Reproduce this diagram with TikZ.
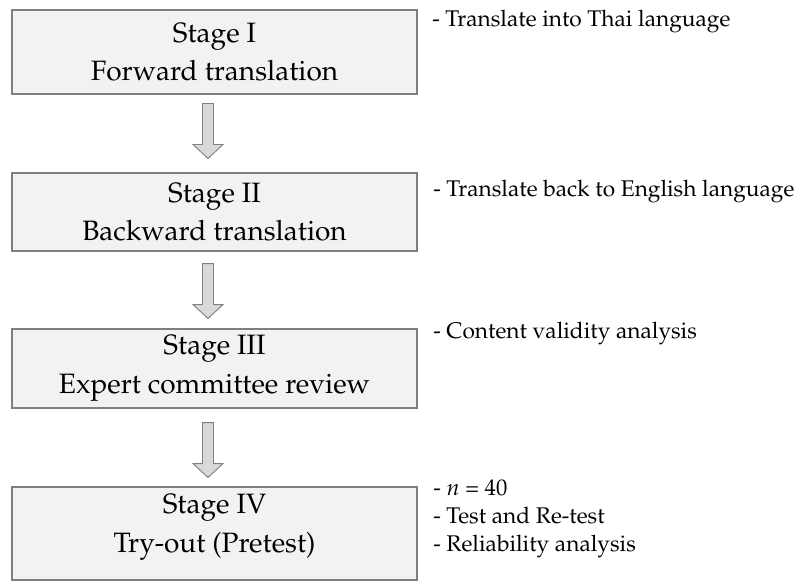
\documentclass[tikz,border=0pt]{standalone}
\usepackage[T1]{fontenc}
\usepackage{mathpazo}
\usetikzlibrary{calc}
\definecolor{boxfill}{HTML}{F2F2F2}
\definecolor{boxline}{HTML}{7F7F7F}
\definecolor{arrfill}{HTML}{D9D9D9}
\definecolor{arrline}{HTML}{808080}
\tikzset{
  stagebox/.style={draw=boxline, fill=boxfill, line width=0.8pt, minimum width=303.75pt, inner sep=0pt},
  stagetext/.style={align=center, font=\fontsize{21}{29}\selectfont, inner sep=0pt},
  sidetext/.style={anchor=base west, font=\fontsize{17}{21}\selectfont, inner sep=0pt},
  blockarrow/.style={draw=arrline, fill=arrfill, line width=0.7pt, line join=miter},
}
\newcommand{\blkarrow}[1]{%
  \draw[blockarrow] ($#1+(-5.5,0)$) -- ($#1+(5.5,0)$) -- ($#1+(5.5,41)$) -- ($#1+(15,41)$) -- ($#1+(0,55)$) -- ($#1+(-15,41)$) -- ($#1+(-5.5,41)$) -- cycle;}
\begin{document}
\begin{tikzpicture}[x=0.75pt, y=-0.75pt]
\useasboundingbox (0,0) rectangle (800,581);
% boxes
\node[stagebox, minimum height=63pt] (s1) at (214.5,52) {};
\node[stagebox, minimum height=58.5pt] (s2) at (214.5,212) {};
\node[stagebox, minimum height=59.25pt] (s3) at (214.5,368.5) {};
\node[stagebox, minimum height=69.75pt] (s4) at (214.5,533.5) {};
% box texts
\node[stagetext] (t1) at (s1.center) {Stage I\\Forward translation};
\node[stagetext] (t2) at (s2.center) {Stage II\\Backward translation};
\node[stagetext] (t3) at (s3.center) {Stage III\\Expert committee review};
\node[stagetext] (t4) at ($(s4.center)+(0,-6.5)$) {Stage IV\\Try-out (Pretest)};
% arrows
\coordinate (a1) at ($(s1.south)+(-6.5,9)$);
\coordinate (a2) at ($(s2.south)+(-6.5,12)$);
\coordinate (a3) at ($(s3.south)+(-6.5,14)$);
\blkarrow{(a1)}
\blkarrow{(a2)}
\blkarrow{(a3)}
% side notes
\node[sidetext] (n1) at (432,27) {- Translate into Thai language};
\node[sidetext] (n2) at (433,197) {- Translate back to English language};
\node[sidetext] (n3) at (433,338) {- Content validity analysis};
\node[sidetext] (n4a) at (433,495) {- $n$ = 40};
\node[sidetext] (n4b) at (433,523) {- Test and Re-test};
\node[sidetext] (n4c) at (433,551) {- Reliability analysis};
\end{tikzpicture}
\end{document}
